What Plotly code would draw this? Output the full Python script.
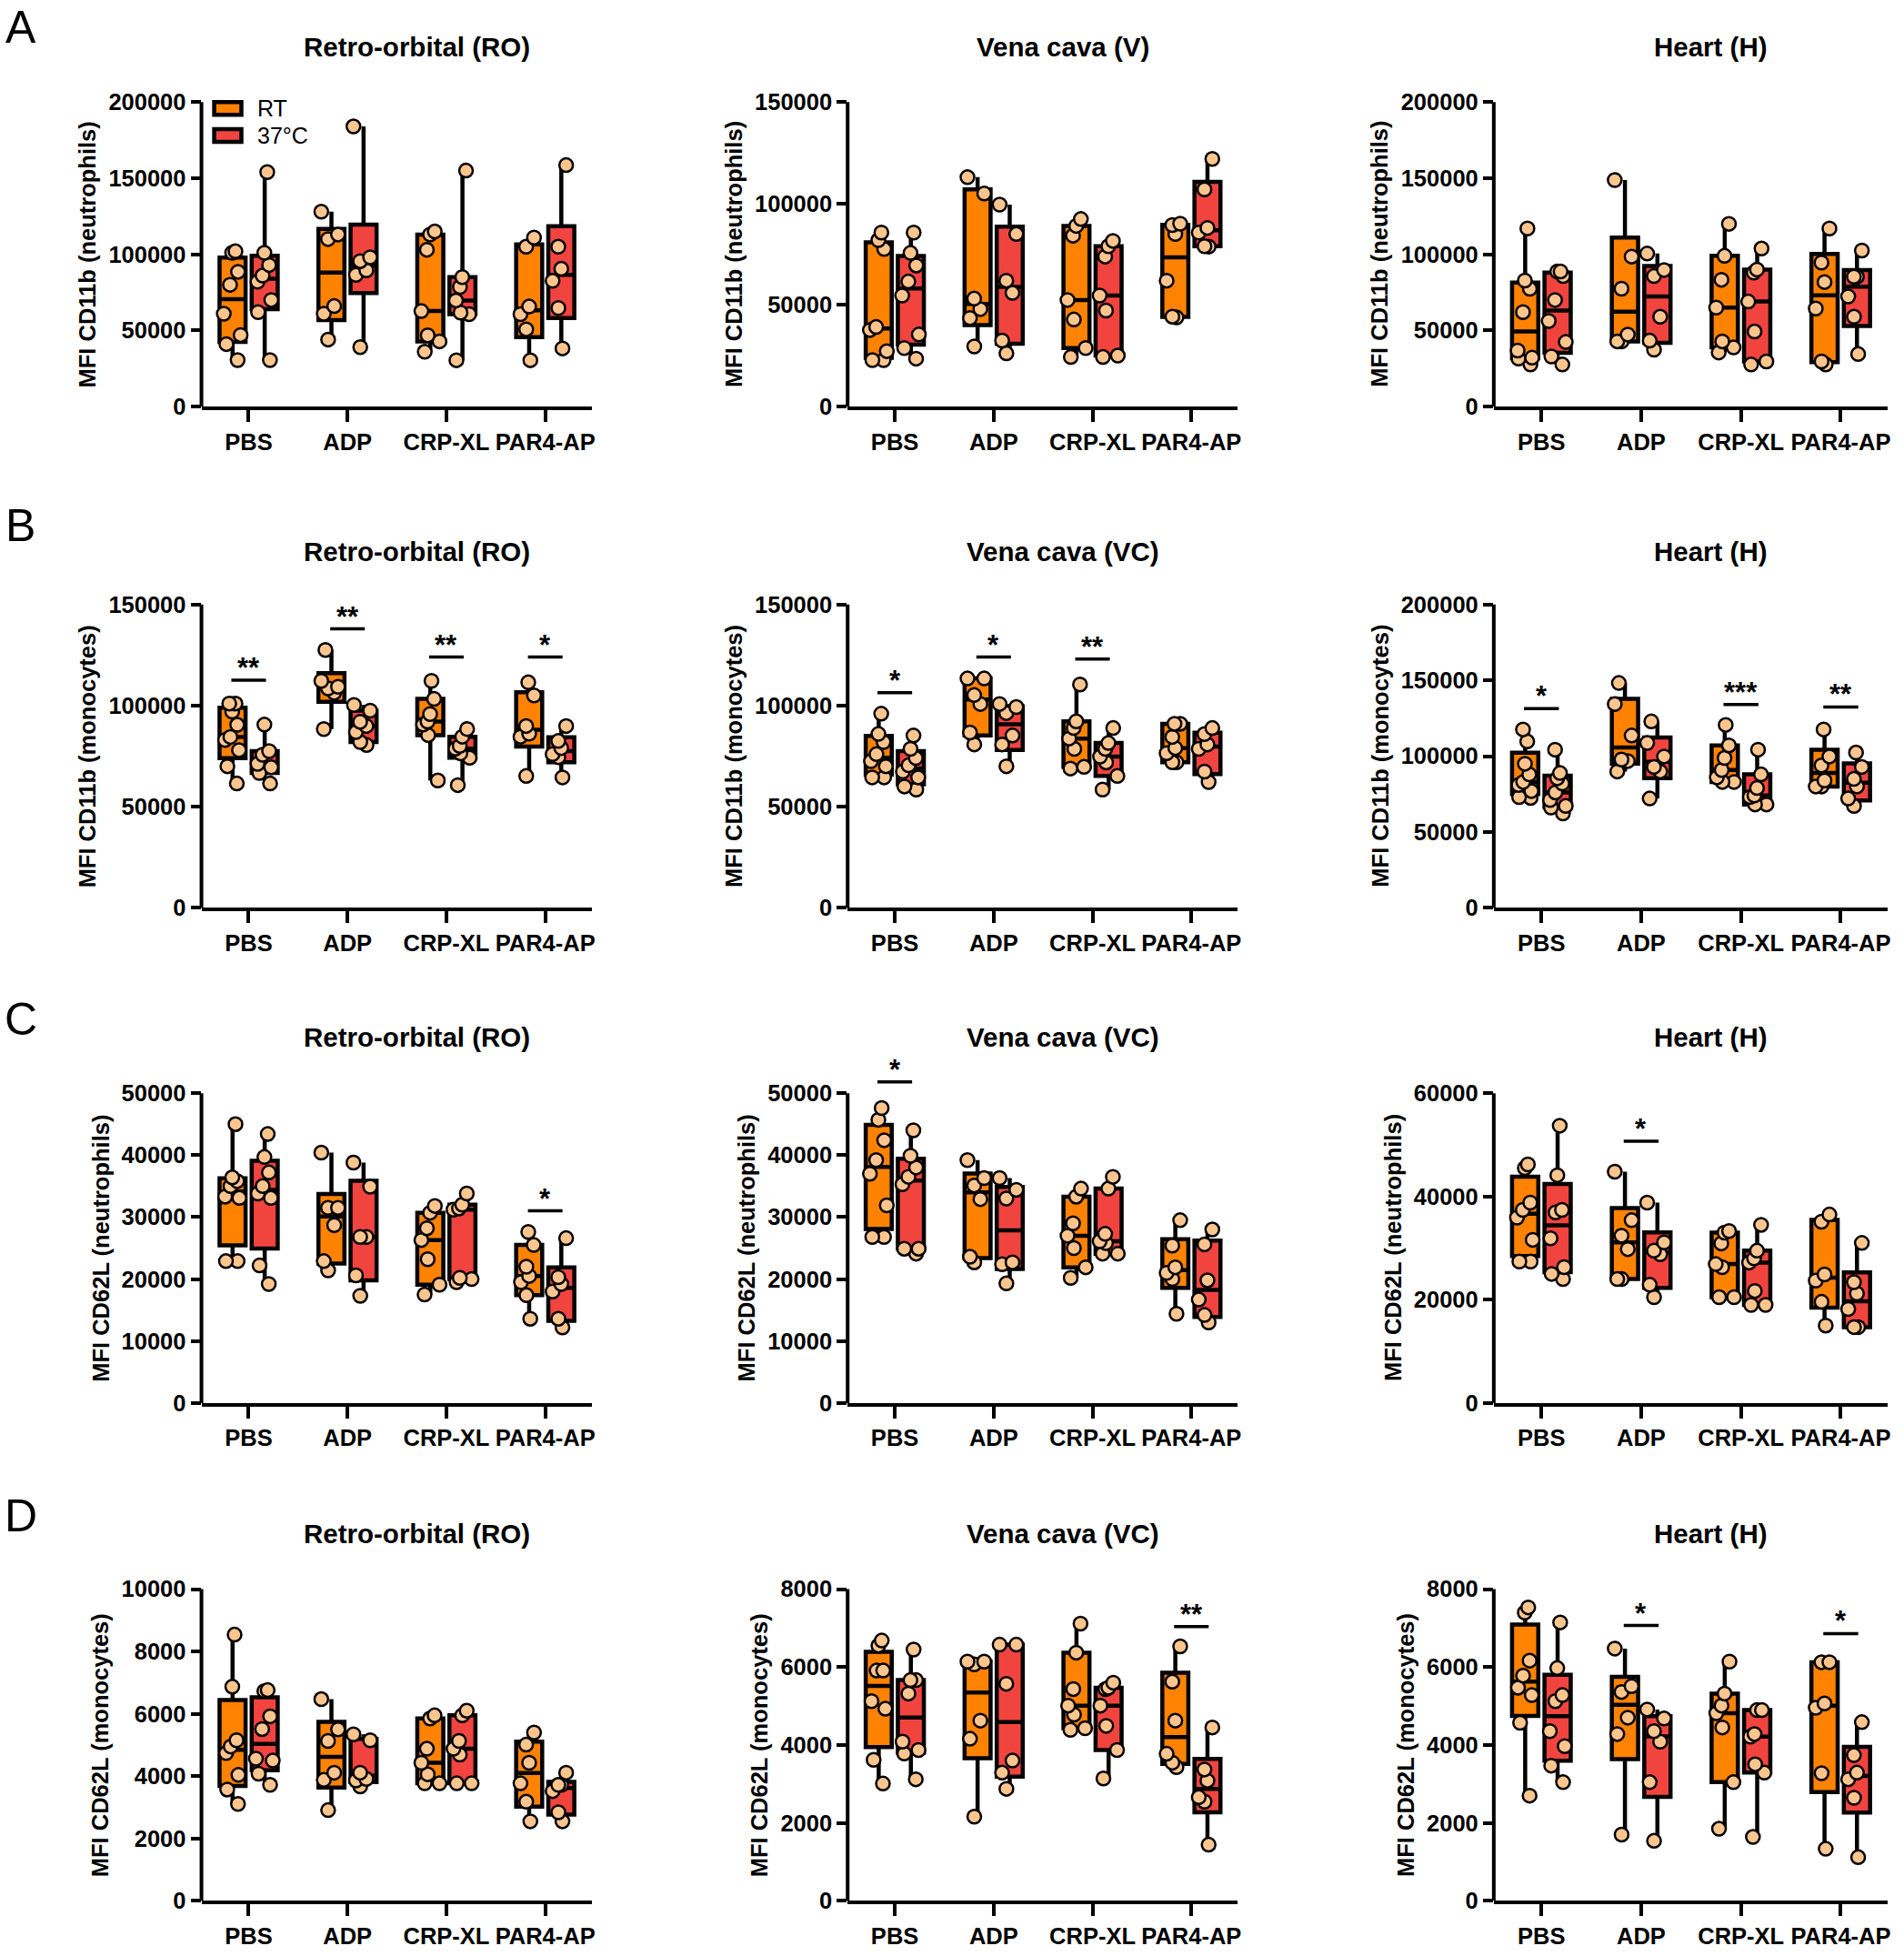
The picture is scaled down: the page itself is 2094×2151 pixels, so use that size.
"""
Box plots (min to max) of CD11b / CD62L MFI on neutrophils and monocytes,
blood drawn at three sites and stimulated with four agonists, RT vs 37°C.
"""
import numpy as np
import plotly.graph_objects as go

CATEGORIES = ['PBS', 'ADP', 'CRP-XL', 'PAR4-AP']

# --- A: CD11b neutrophils ---------------------------------------------------
A_RO_RT = [[102000, 101000, 88500, 80000, 61000, 47000, 41000, 30500],
           [128000, 113000, 110000, 66000, 61000, 44000],
           [115000, 113000, 103000, 62700, 46800, 42800, 36000],
           [111000, 105000, 65700, 60700, 50700, 30400]]
A_RO_37 = [[154000, 101000, 93000, 86000, 82000, 70000, 62000, 30500],
           [184000, 98000, 95500, 89500, 86500, 39000],
           [155000, 85000, 78600, 69700, 61700, 60700, 30400],
           [158600, 105000, 90500, 82600, 64700, 38200]]
A_V_RT = [[85700, 82000, 77600, 39200, 37700, 27300, 22900, 22900],
          [113000, 105000, 53200, 48000, 43600, 29600],
          [92400, 89000, 84200, 52500, 42900, 28800, 24400],
          [90100, 89400, 85000, 62000, 44300, 43900]]
A_V_37 = [[85700, 75700, 69500, 61600, 54700, 35500, 28800, 23600],
          [99500, 85000, 62000, 56000, 32500, 26200],
          [81600, 79000, 73900, 54700, 47300, 25100, 24400],
          [122000, 107000, 88000, 85700, 79000, 78800]]
A_H_RT = [[117000, 82800, 77400, 62000, 36800, 32100, 31500, 27600],
          [148800, 98500, 77400, 47300, 42800, 42800],
          [120000, 99000, 83300, 65000, 42800, 38800, 35500],
          [117000, 94600, 81800, 64400, 29600, 27600]]
A_H_37 = [[88700, 88700, 85700, 70000, 56200, 42400, 32900, 27600],
          [100500, 89700, 85700, 59000, 43300, 37400],
          [103800, 90000, 88000, 69000, 49300, 29600, 27600],
          [102500, 85300, 85300, 72300, 59000, 34500]]

# --- B: CD11b monocytes -----------------------------------------------------
B_RO_RT = [[101000, 101000, 97000, 90500, 84500, 83000, 78000, 70000, 61500],
           [127500, 112200, 109300, 108500, 106300, 88400],
           [112200, 103300, 95800, 92100, 90600, 85400, 63000],
           [111500, 105000, 89900, 86100, 84600, 65200]]
B_RO_37 = [[90600, 77500, 75700, 71200, 69500, 66700, 61500],
           [100300, 97500, 92000, 89900, 86900, 82000, 80500],
           [88400, 84600, 80100, 78700, 76400, 74200, 60700],
           [89900, 82500, 79000, 76000, 74500, 64500]]
B_VC_RT = [[96000, 86000, 82000, 76000, 72500, 70000, 64500, 64500],
           [113400, 113400, 105200, 100800, 86700, 80800],
           [110400, 92200, 88900, 83700, 78600, 69700, 68900],
           [91000, 91000, 84500, 79000, 76500, 72000, 72000]]
B_VC_37 = [[85200, 78600, 74100, 70500, 67400, 64500, 60000, 58500],
           [100800, 99300, 96300, 85200, 80800, 70000],
           [88900, 81500, 78600, 74800, 71900, 65200, 58500],
           [88900, 85900, 80800, 78600, 67400, 62200]]
B_H_RT = [[117600, 109700, 95000, 88000, 83000, 81000, 77000, 73000, 72500],
          [148200, 134400, 113600, 97800, 96800, 89900],
          [120600, 107100, 98800, 90900, 86000, 83000, 83000],
          [117600, 99800, 93900, 84000, 80000, 80000]]
B_H_37 = [[104300, 88900, 85400, 82000, 76100, 71100, 67200, 66200, 62300],
          [122900, 108700, 99800, 92900, 89900, 72100],
          [104300, 88000, 79000, 74100, 73100, 68200, 68200],
          [102400, 92900, 85000, 80000, 72100, 67200]]

# --- C: CD62L neutrophils ---------------------------------------------------
C_RO_RT = [[45000, 36400, 35800, 35000, 33300, 33100, 22900, 22900],
           [40400, 31500, 31500, 28700, 22900, 21400],
           [31800, 30700, 28200, 26300, 23200, 19100, 17500],
           [27600, 25500, 22000, 20500, 19500, 17400, 13600]]
C_RO_37 = [[43400, 39700, 37200, 35000, 33800, 33100, 22200, 19200],
           [38800, 34900, 26800, 26800, 20600, 17300],
           [33800, 32000, 31400, 31200, 20200, 20000, 19500],
           [26600, 20300, 19200, 18000, 13600, 12200]]
C_VC_RT = [[47600, 45700, 42400, 39200, 37000, 31900, 26800, 26800],
           [39200, 36300, 35100, 32900, 23600, 22700],
           [34600, 33300, 29000, 27000, 25000, 21900, 20200],
           [29500, 25400, 21900, 21000, 20000, 14400]]
C_VC_37 = [[44000, 39900, 38000, 36500, 35300, 24900, 24900, 24100],
           [36300, 34400, 33000, 22700, 22400, 19300],
           [36500, 34600, 27300, 26100, 25800, 24100, 24100],
           [28000, 25600, 19800, 16700, 14200, 13000]]
C_H_RT = [[46200, 45500, 38800, 37400, 35900, 31600, 27400, 27400],
          [44800, 35400, 32400, 29800, 24000, 24000],
          [33300, 33000, 30900, 26900, 26300, 20500, 20500],
          [36500, 35100, 24900, 23700, 19600, 15000]]
C_H_37 = [[53700, 44100, 37400, 36900, 31900, 26300, 25000, 24000],
          [38800, 31100, 29500, 28800, 22900, 20500],
          [34500, 29500, 28000, 27200, 21700, 19000, 19000],
          [31000, 23400, 21200, 18200, 14700, 14700]]

# --- D: CD62L monocytes -----------------------------------------------------
D_RO_RT = [[8540, 6870, 5150, 4950, 4740, 4040, 3570, 3110],
           [6470, 5500, 5130, 4110, 3880, 2910],
           [5950, 5850, 4880, 4430, 4060, 3770, 3770],
           [5400, 5010, 4430, 3770, 3180, 2550]]
D_RO_37 = [[6760, 6730, 5920, 5510, 4560, 4500, 4080, 3720],
           [5340, 5150, 4110, 3910, 3860, 3670],
           [6100, 5950, 5130, 4880, 4690, 3770, 3770],
           [4110, 3720, 3720, 3520, 2840, 2550]]
D_VC_RT = [[6680, 6550, 5910, 5910, 5125, 4930, 3620, 3010],
           [6140, 6140, 6070, 4625, 4160, 2160],
           [7115, 6370, 5435, 5010, 4780, 4430, 4390],
           [6530, 5625, 4625, 3775, 3545, 3430]]
D_VC_37 = [[6450, 5665, 5665, 5320, 4085, 3870, 3780, 3120],
           [6575, 6575, 5570, 3600, 3290, 2875],
           [5600, 5470, 5435, 5010, 4490, 3870, 3140],
           [4450, 3370, 3085, 2660, 2545, 1440]]
D_H_RT = [[7530, 7400, 6165, 5780, 5470, 5280, 4570, 2700],
          [6475, 5510, 5360, 4700, 4280, 1700],
          [6140, 5320, 5010, 4815, 4450, 3045, 1850],
          [6125, 6125, 5065, 4955, 3275, 1335]]
D_H_37 = [[7145, 5975, 5280, 5125, 4355, 3970, 3470, 3045],
          [4910, 4680, 4355, 4085, 3045, 1540],
          [4895, 4895, 4280, 4215, 3505, 3290, 1640],
          [4585, 3740, 3290, 3120, 2645, 1120]]

# significance bars: (category, stars, y of the bar)
SIG_B_RO = [('PBS', '**', 112500), ('ADP', '**', 137900),
            ('CRP-XL', '**', 124000), ('PAR4-AP', '*', 124000)]
SIG_B_VC = [('PBS', '*', 106400), ('ADP', '*', 124000), ('CRP-XL', '**', 123000)]
SIG_B_H = [('PBS', '*', 131400), ('CRP-XL', '***', 134000), ('PAR4-AP', '**', 132400)]
SIG_C_RO = [('PAR4-AP', '*', 31000)]
SIG_C_VC = [('PBS', '*', 51800)]
SIG_C_H = [('ADP', '*', 50700)]
SIG_D_VC = [('PAR4-AP', '**', 7037)]
SIG_D_H = [('ADP', '*', 7067), ('PAR4-AP', '*', 6860)]

ROW_LETTERS = ['A', 'B', 'C', 'D']
ROW_YTITLES = ['MFI CD11b (neutrophils)', 'MFI CD11b (monocytes)',
               'MFI CD62L (neutrophils)', 'MFI CD62L (monocytes)']
SERIES_NAMES = ['RT', '37°C']

# (title, RT groups, 37°C groups, top tick, tick step, significance)
PANELS = [
    ('Retro-orbital (RO)', A_RO_RT, A_RO_37, 200000, 50000, []),
    ('Vena cava (V)', A_V_RT, A_V_37, 150000, 50000, []),
    ('Heart (H)', A_H_RT, A_H_37, 200000, 50000, []),
    ('Retro-orbital (RO)', B_RO_RT, B_RO_37, 150000, 50000, SIG_B_RO),
    ('Vena cava (VC)', B_VC_RT, B_VC_37, 150000, 50000, SIG_B_VC),
    ('Heart (H)', B_H_RT, B_H_37, 200000, 50000, SIG_B_H),
    ('Retro-orbital (RO)', C_RO_RT, C_RO_37, 50000, 10000, SIG_C_RO),
    ('Vena cava (VC)', C_VC_RT, C_VC_37, 50000, 10000, SIG_C_VC),
    ('Heart (H)', C_H_RT, C_H_37, 60000, 20000, SIG_C_H),
    ('Retro-orbital (RO)', D_RO_RT, D_RO_37, 10000, 2000, []),
    ('Vena cava (VC)', D_VC_RT, D_VC_37, 8000, 2000, SIG_D_VC),
    ('Heart (H)', D_H_RT, D_H_37, 8000, 2000, SIG_D_H),
]

FONT = 'Liberation Sans'
ORANGE = '#FF8200'
RED = '#F2443F'
PEACH = '#FDC58E'
COLORS = [ORANGE, RED]
LINE_W = 4.5
AXIS_W = 4

W, H = 2094, 2151
COL_PX = [(222, 652), (934, 1364), (1646, 2080)]      # y axis, x axis end
ROW_PX = [(113, 450), (669, 1005), (1210, 1553), (1759, 2104)]  # top tick, zero
ROW_TITLE_Y = [52, 610, 1148, 1698]
LETTER_Y = [30, 582, 1128, 1678]
EXT = 1.06
XRANGE = [-0.477, 3.47]
HALF_BAR = 0.175


def stats(groups):
    """Min, quartiles and max per category (GraphPad style quartiles)."""
    arr = [np.asarray(g, dtype=float) for g in groups]
    return dict(lowerfence=[a.min() for a in arr],
                q1=[np.percentile(a, 25, method='weibull') for a in arr],
                median=[np.median(a) for a in arr],
                q3=[np.percentile(a, 75, method='weibull') for a in arr],
                upperfence=[a.max() for a in arr])


def add_series(fig, groups, color, name, suffix):
    fig.add_trace(go.Box(x=CATEGORIES, **stats(groups), name=name,
                         fillcolor=color, line=dict(color='black', width=LINE_W),
                         whiskerwidth=0, boxpoints=False, offsetgroup=name,
                         showlegend=False, hoverinfo='skip',
                         xaxis='x' + suffix, yaxis='y' + suffix))
    xs = [c for c, g in zip(CATEGORIES, groups) for _ in g]
    ys = [v for g in groups for v in g]
    fig.add_trace(go.Box(x=xs, y=ys, name=name, boxpoints='all', jitter=0.8,
                         pointpos=0, fillcolor='rgba(0,0,0,0)',
                         line=dict(color='rgba(0,0,0,0)', width=0),
                         whiskerwidth=0, offsetgroup=name, showlegend=False,
                         marker=dict(color=PEACH, size=15,
                                     line=dict(color='black', width=2.5)),
                         hoverinfo='skip', xaxis='x' + suffix, yaxis='y' + suffix))


fig = go.Figure()
shapes, annotations, axes = [], [], {}
bold = dict(family=FONT, color='black', weight='bold')

for i, (title, rt, hot, top, step, sig) in enumerate(PANELS):
    row, col = divmod(i, 3)
    n = i + 1
    suffix = '' if n == 1 else str(n)
    left, right = COL_PX[col]
    top_px, zero_px = ROW_PX[row]
    y0 = 1 - zero_px / H
    y_top = 1 - top_px / H
    y1 = y0 + (y_top - y0) * EXT

    add_series(fig, rt, ORANGE, SERIES_NAMES[0], suffix)
    add_series(fig, hot, RED, SERIES_NAMES[1], suffix)

    axes['xaxis' + suffix] = dict(
        domain=[left / W, right / W], anchor='y' + suffix, type='category',
        categoryorder='array', categoryarray=CATEGORIES, range=XRANGE,
        showline=True, linecolor='black', linewidth=AXIS_W, ticks='outside',
        ticklen=13, tickwidth=AXIS_W, tickcolor='black', showgrid=False,
        zeroline=False, tickfont=dict(size=25.5, **bold), fixedrange=True)
    axes['yaxis' + suffix] = dict(
        domain=[y0, y1], anchor='x' + suffix, range=[0, top * EXT],
        tickvals=list(range(0, top + step, step)), tickformat='d',
        showline=False, ticks='outside', ticklen=11, tickwidth=AXIS_W,
        tickcolor='black', showgrid=False, zeroline=False,
        tickfont=dict(size=25.5, **bold), fixedrange=True)

    # y axis line only up to the last tick, as in the original
    shapes.append(dict(type='line', xref='x%s domain' % suffix, x0=0, x1=0,
                       yref='y' + suffix, y0=0, y1=top,
                       line=dict(color='black', width=AXIS_W)))

    for cat, stars, yv in sig:
        k = CATEGORIES.index(cat)
        shapes.append(dict(type='line', xref='x' + suffix, yref='y' + suffix,
                           x0=k - HALF_BAR, x1=k + HALF_BAR, y0=yv, y1=yv,
                           line=dict(color='black', width=3.5)))
        annotations.append(dict(text=stars, x=k, y=yv, xref='x' + suffix,
                                yref='y' + suffix, showarrow=False,
                                yanchor='bottom', yshift=-6,
                                font=dict(size=31, **bold)))

    annotations.append(dict(text=title, xref='paper', yref='paper',
                            x=((left + right) / 2 + 22) / W,
                            y=1 - ROW_TITLE_Y[row] / H, showarrow=False,
                            xanchor='center', yanchor='middle',
                            font=dict(size=29.5, **bold)))
    ndig = len(str(top))
    annotations.append(dict(text=ROW_YTITLES[row], xref='paper', yref='paper',
                            x=(left - (ndig * 14.5 + 39)) / W,
                            y=(y0 + y_top) / 2, textangle=-90, showarrow=False,
                            xanchor='center', yanchor='middle',
                            font=dict(size=25.5, **bold)))

for row, letter in enumerate(ROW_LETTERS):
    annotations.append(dict(text=letter, xref='paper', yref='paper',
                            x=23 / W, y=1 - LETTER_Y[row] / H, showarrow=False,
                            xanchor='center', yanchor='middle',
                            font=dict(family=FONT, size=50, color='black')))

# legend of the first panel: swatch + label
for j, (name, color) in enumerate(zip(SERIES_NAMES, COLORS)):
    yc = 120 + 30 * j
    shapes.append(dict(type='rect', xref='paper', yref='paper',
                       x0=236 / W, x1=266 / W, y0=1 - (yc + 7) / H,
                       y1=1 - (yc - 7) / H, fillcolor=color,
                       line=dict(color='black', width=LINE_W)))
    annotations.append(dict(text=name, xref='paper', yref='paper',
                            x=282 / W, y=1 - yc / H, showarrow=False,
                            xanchor='left', yanchor='middle',
                            font=dict(size=25, family=FONT, color='black')))

fig.update_layout(
    width=W, height=H, margin=dict(l=0, r=0, t=0, b=0),
    paper_bgcolor='white', plot_bgcolor='white',
    boxmode='group', boxgap=0.35, boxgroupgap=0.19,
    showlegend=False,
    shapes=shapes, annotations=annotations, **axes)

fig.write_html("out.html", config={'displayModeBar': False},
               post_script="document.body.style.margin='0';")
